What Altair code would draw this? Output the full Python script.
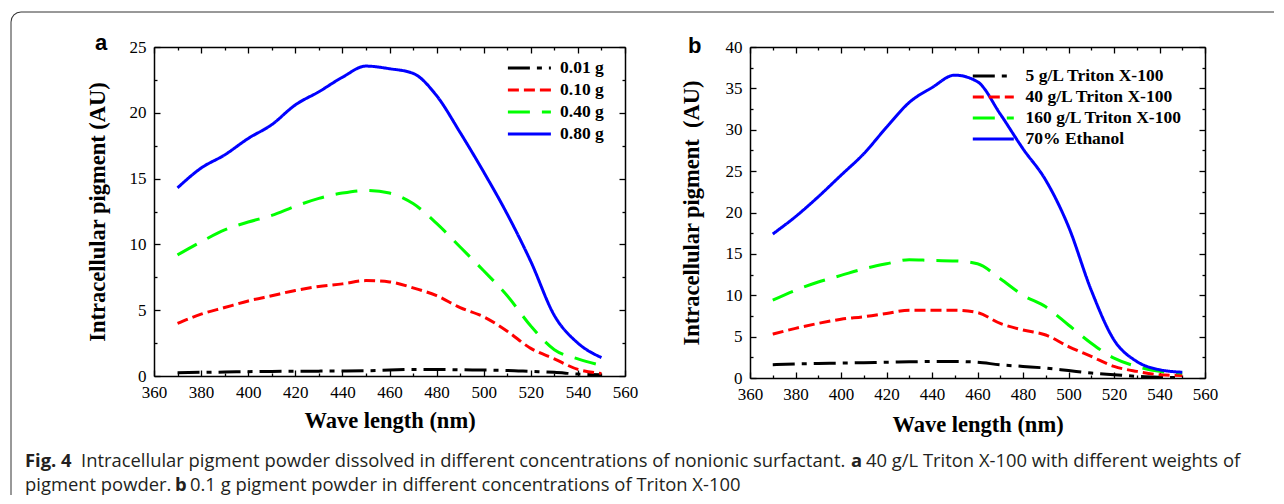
import altair as alt
import pandas as pd

# ---------------- data ----------------
wavelength = [370, 380, 390, 400, 410, 420, 430, 440, 450, 460,
              470, 480, 490, 500, 510, 520, 530, 540, 550]

a_series = ["0.01 g", "0.10 g", "0.40 g", "0.80 g"]
a_001 = [0.25, 0.28, 0.30, 0.33, 0.35, 0.36, 0.37, 0.38, 0.40, 0.45,
         0.50, 0.50, 0.47, 0.45, 0.42, 0.35, 0.28, 0.15, 0.10]
a_010 = [4.0, 4.7, 5.2, 5.7, 6.1, 6.5, 6.8, 7.0, 7.25, 7.15,
         6.7, 6.1, 5.2, 4.5, 3.4, 2.1, 1.3, 0.5, 0.2]
a_040 = [9.2, 10.2, 11.1, 11.7, 12.2, 12.9, 13.5, 13.9, 14.1, 13.9,
         13.1, 11.6, 9.8, 8.0, 6.1, 3.8, 2.0, 1.3, 0.8]
a_080 = [14.3, 15.8, 16.8, 18.05, 19.1, 20.6, 21.6, 22.7, 23.55, 23.35,
         23.0, 21.3, 18.5, 15.5, 12.3, 8.7, 4.6, 2.5, 1.4]

b_series = ["5 g/L Triton X-100", "40 g/L Triton X-100",
            "160 g/L Triton X-100", "70% Ethanol"]
b_5 = [1.6, 1.7, 1.75, 1.8, 1.85, 1.9, 1.95, 2.0, 2.0, 1.9,
       1.6, 1.4, 1.2, 0.9, 0.6, 0.4, 0.2, 0.1, 0.05]
b_40 = [5.3, 6.0, 6.6, 7.1, 7.4, 7.8, 8.2, 8.2, 8.2, 7.9,
        6.6, 5.8, 5.2, 3.8, 2.6, 1.4, 0.8, 0.4, 0.3]
b_160 = [9.4, 10.6, 11.6, 12.4, 13.2, 13.8, 14.3, 14.2, 14.15, 13.8,
         12.0, 10.0, 8.6, 6.4, 4.2, 2.4, 1.4, 0.8, 0.6]
b_eth = [17.4, 19.5, 21.9, 24.5, 27.1, 30.3, 33.3, 35.1, 36.6, 35.8,
         31.9, 27.7, 23.9, 18.3, 10.6, 4.6, 2.0, 1.0, 0.7]

colors = ["#000000", "#ff0000", "#00ff00", "#0000ff"]
dashes = [[22, 7, 5, 7], [11, 5], [22, 12], [1, 0]]

caption_bits = ["Fig. 4",
                "Intracellular pigment powder dissolved in different concentrations of nonionic surfactant.",
                "a", "40 g/L Triton X-100 with different weights of",
                "pigment powder.", "b",
                "0.1 g pigment powder in different concentrations of Triton X-100"]


def long_df(series, arrays):
    rows = []
    for s, arr in zip(series, arrays):
        for w, v in zip(wavelength, arr):
            rows.append({"wl": w, "val": v, "series": s})
    return pd.DataFrame(rows)


df_a = long_df(a_series, [a_001, a_010, a_040, a_080])
df_b = long_df(b_series, [b_5, b_40, b_160, b_eth])

SERIF = "Liberation Serif"
one = pd.DataFrame({"k": [0]})


def label(text, x, y, size, weight="normal", font="Liberation Sans", color="black"):
    return alt.Chart(one).mark_text(text=text, align="left", baseline="alphabetic",
                                    font=font, fontSize=size, fontWeight=weight,
                                    color=color).encode(x=alt.value(x), y=alt.value(y))


def tick_axis(orient, offset, values, size, domain):
    return alt.Axis(orient=orient, offset=offset, values=values, labels=False,
                    domain=domain, domainColor="black", domainWidth=1.5,
                    ticks=True, tickSize=size, tickColor="black", tickWidth=1.3,
                    grid=False, title=None)


def panel(df, series, w, h, ymax, ytitle, leg_x, leg_y, sym_len, lab_off, row_pad,
          xtitle_pad, ytitle_pad, letter, letter_xy):
    xs = alt.Scale(domain=[360, 560], nice=False, zero=False)
    ys = alt.Scale(domain=[0, ymax], nice=False, zero=False)
    xmaj = list(range(360, 561, 20))
    xmin = list(range(370, 561, 20))
    ymaj = list(range(0, ymax + 1, 5))
    ymin = [v + 2.5 for v in range(0, ymax, 5)]

    # symbol path spans [-1, 4] in units of sqrt(size)/2 -> length = 2.5*sqrt(size)
    unit = sym_len / 2.5
    leg = alt.Legend(orient="none", legendX=leg_x, legendY=leg_y, title=None,
                     symbolType="M-1,0H4", symbolSize=unit * unit,
                     symbolStrokeWidth=3, labelFont=SERIF, labelFontWeight="bold",
                     labelFontSize=17.5, labelColor="black", labelOffset=lab_off,
                     padding=0, rowPadding=row_pad)

    lines = alt.Chart(df).mark_line(strokeWidth=3, interpolate="monotone").encode(
        x=alt.X("wl:Q", scale=xs, axis=alt.Axis(
            orient="bottom", values=xmaj, ticks=False,
            labelPadding=8, labelFont=SERIF, labelFontSize=17, labelColor="black",
            labelFlush=False, domain=True, domainColor="black", domainWidth=1.5,
            grid=False,
            title="Wave length (nm)", titleFont=SERIF, titleFontSize=22.5,
            titleFontWeight="bold", titleColor="black", titlePadding=xtitle_pad)),
        y=alt.Y("val:Q", scale=ys, axis=alt.Axis(
            orient="left", values=ymaj, ticks=False,
            labelPadding=8, labelFont=SERIF, labelFontSize=17, labelColor="black",
            labelFlush=False, domain=True, domainColor="black", domainWidth=1.5,
            grid=False,
            title=ytitle, titleFont=SERIF, titleFontSize=22.5,
            titleFontWeight="bold", titleColor="black", titlePadding=ytitle_pad)),
        color=alt.Color("series:N", scale=alt.Scale(domain=series, range=colors), legend=leg),
        strokeDash=alt.StrokeDash("series:N", scale=alt.Scale(domain=series, range=dashes), legend=leg),
        detail="series:N",
    )

    def ghost(xa, ya):
        return alt.Chart(df).mark_line(opacity=0).encode(
            x=alt.X("wl:Q", scale=xs, axis=xa),
            y=alt.Y("val:Q", scale=ys, axis=ya),
            detail="series:N",
        )

    g1 = ghost(tick_axis("top", -h, xmaj, 6, False),
               tick_axis("right", -w, ymaj, 6, False))
    g2 = ghost(tick_axis("bottom", -h, xmaj, 6, True),
               tick_axis("left", -w, ymaj, 6, True))
    g3 = ghost(tick_axis("top", -h, xmin, 3, False),
               tick_axis("right", -w, ymin, 3, False))
    g4 = ghost(tick_axis("bottom", -h, xmin, 3, False),
               tick_axis("left", -w, ymin, 3, False))

    let = label(letter, letter_xy[0], letter_xy[1], 22, "bold")

    return alt.layer(lines, g1, g2, g3, g4, let).resolve_axis(
        x="independent", y="independent").properties(width=w, height=h)


# view coordinates (page - 8): panel a plot x 146..617, y 39..368 ; panel b x 742..1197, y 39..370
pa = panel(df_a, a_series, 471, 329, 25, "Intracellular pigment (AU)",
           352, 10.5, 43, 33, 3, 9, 20, "a", (-59, 3))
pb = panel(df_b, b_series, 455, 331, 40, "Intracellular pigment\u00a0 (AU)",
           221, 19, 41, 34.5, 2, 11, 22, "b", (-62, 6))

# caption chart, origin at view (146, 440)
CAP = "Open Sans"
CAPC = "#231f20"
CS = 18.4
ox, oy = 146, 440
cap_layers = [
    label(caption_bits[0], 17 - ox, 459 - oy, CS, "bold", CAP, CAPC),
    label(caption_bits[1], 73 - ox, 459 - oy, CS, "normal", CAP, CAPC),
    label(caption_bits[2], 843 - ox, 459 - oy, CS, "bold", CAP, CAPC),
    label(caption_bits[3], 858 - ox, 459 - oy, CS, "normal", CAP, CAPC),
    label(caption_bits[4], 17 - ox, 483 - oy, CS, "normal", CAP, CAPC),
    label(caption_bits[5], 167 - ox, 483 - oy, CS, "bold", CAP, CAPC),
    label(caption_bits[6], 182 - ox, 483 - oy, CS, "normal", CAP, CAPC),
]
# figure border: top and left edges with a rounded top-left corner
R = 10
frame_col = "#333333"
cap_layers += [
    alt.Chart(one).mark_rule(stroke=frame_col, strokeWidth=1).encode(
        x=alt.value(3 + R - ox), x2=alt.value(1266 - ox), y=alt.value(4 - oy), y2=alt.value(4 - oy)),
    alt.Chart(one).mark_rule(stroke=frame_col, strokeWidth=1).encode(
        x=alt.value(3 - ox), x2=alt.value(3 - ox), y=alt.value(4 + R - oy), y2=alt.value(487 - oy)),
    alt.Chart(one).mark_arc(innerRadius=R - 0.5, outerRadius=R + 0.5, fill=frame_col).encode(
        x=alt.value(3 + R - ox), y=alt.value(4 + R - oy),
        theta=alt.value(4.71239), theta2=alt.value(6.28319)),
]
caption = alt.layer(*cap_layers).properties(
    width=471, height=48, view=alt.ViewBackground(stroke=None))

chart = alt.concat(
    pa, pb, caption, columns=2, bounds="flush", align="each",
    spacing=alt.RowColnumber(row=70, column=125)
).resolve_scale(
    color="independent", strokeDash="independent"
).resolve_legend(
    color="independent", strokeDash="independent"
).properties(
    padding={"left": 2, "top": 3, "right": 0, "bottom": 0}
).configure_view(stroke=None)

chart.save("out.html", embed_options={"renderer": "svg", "actions": False})
